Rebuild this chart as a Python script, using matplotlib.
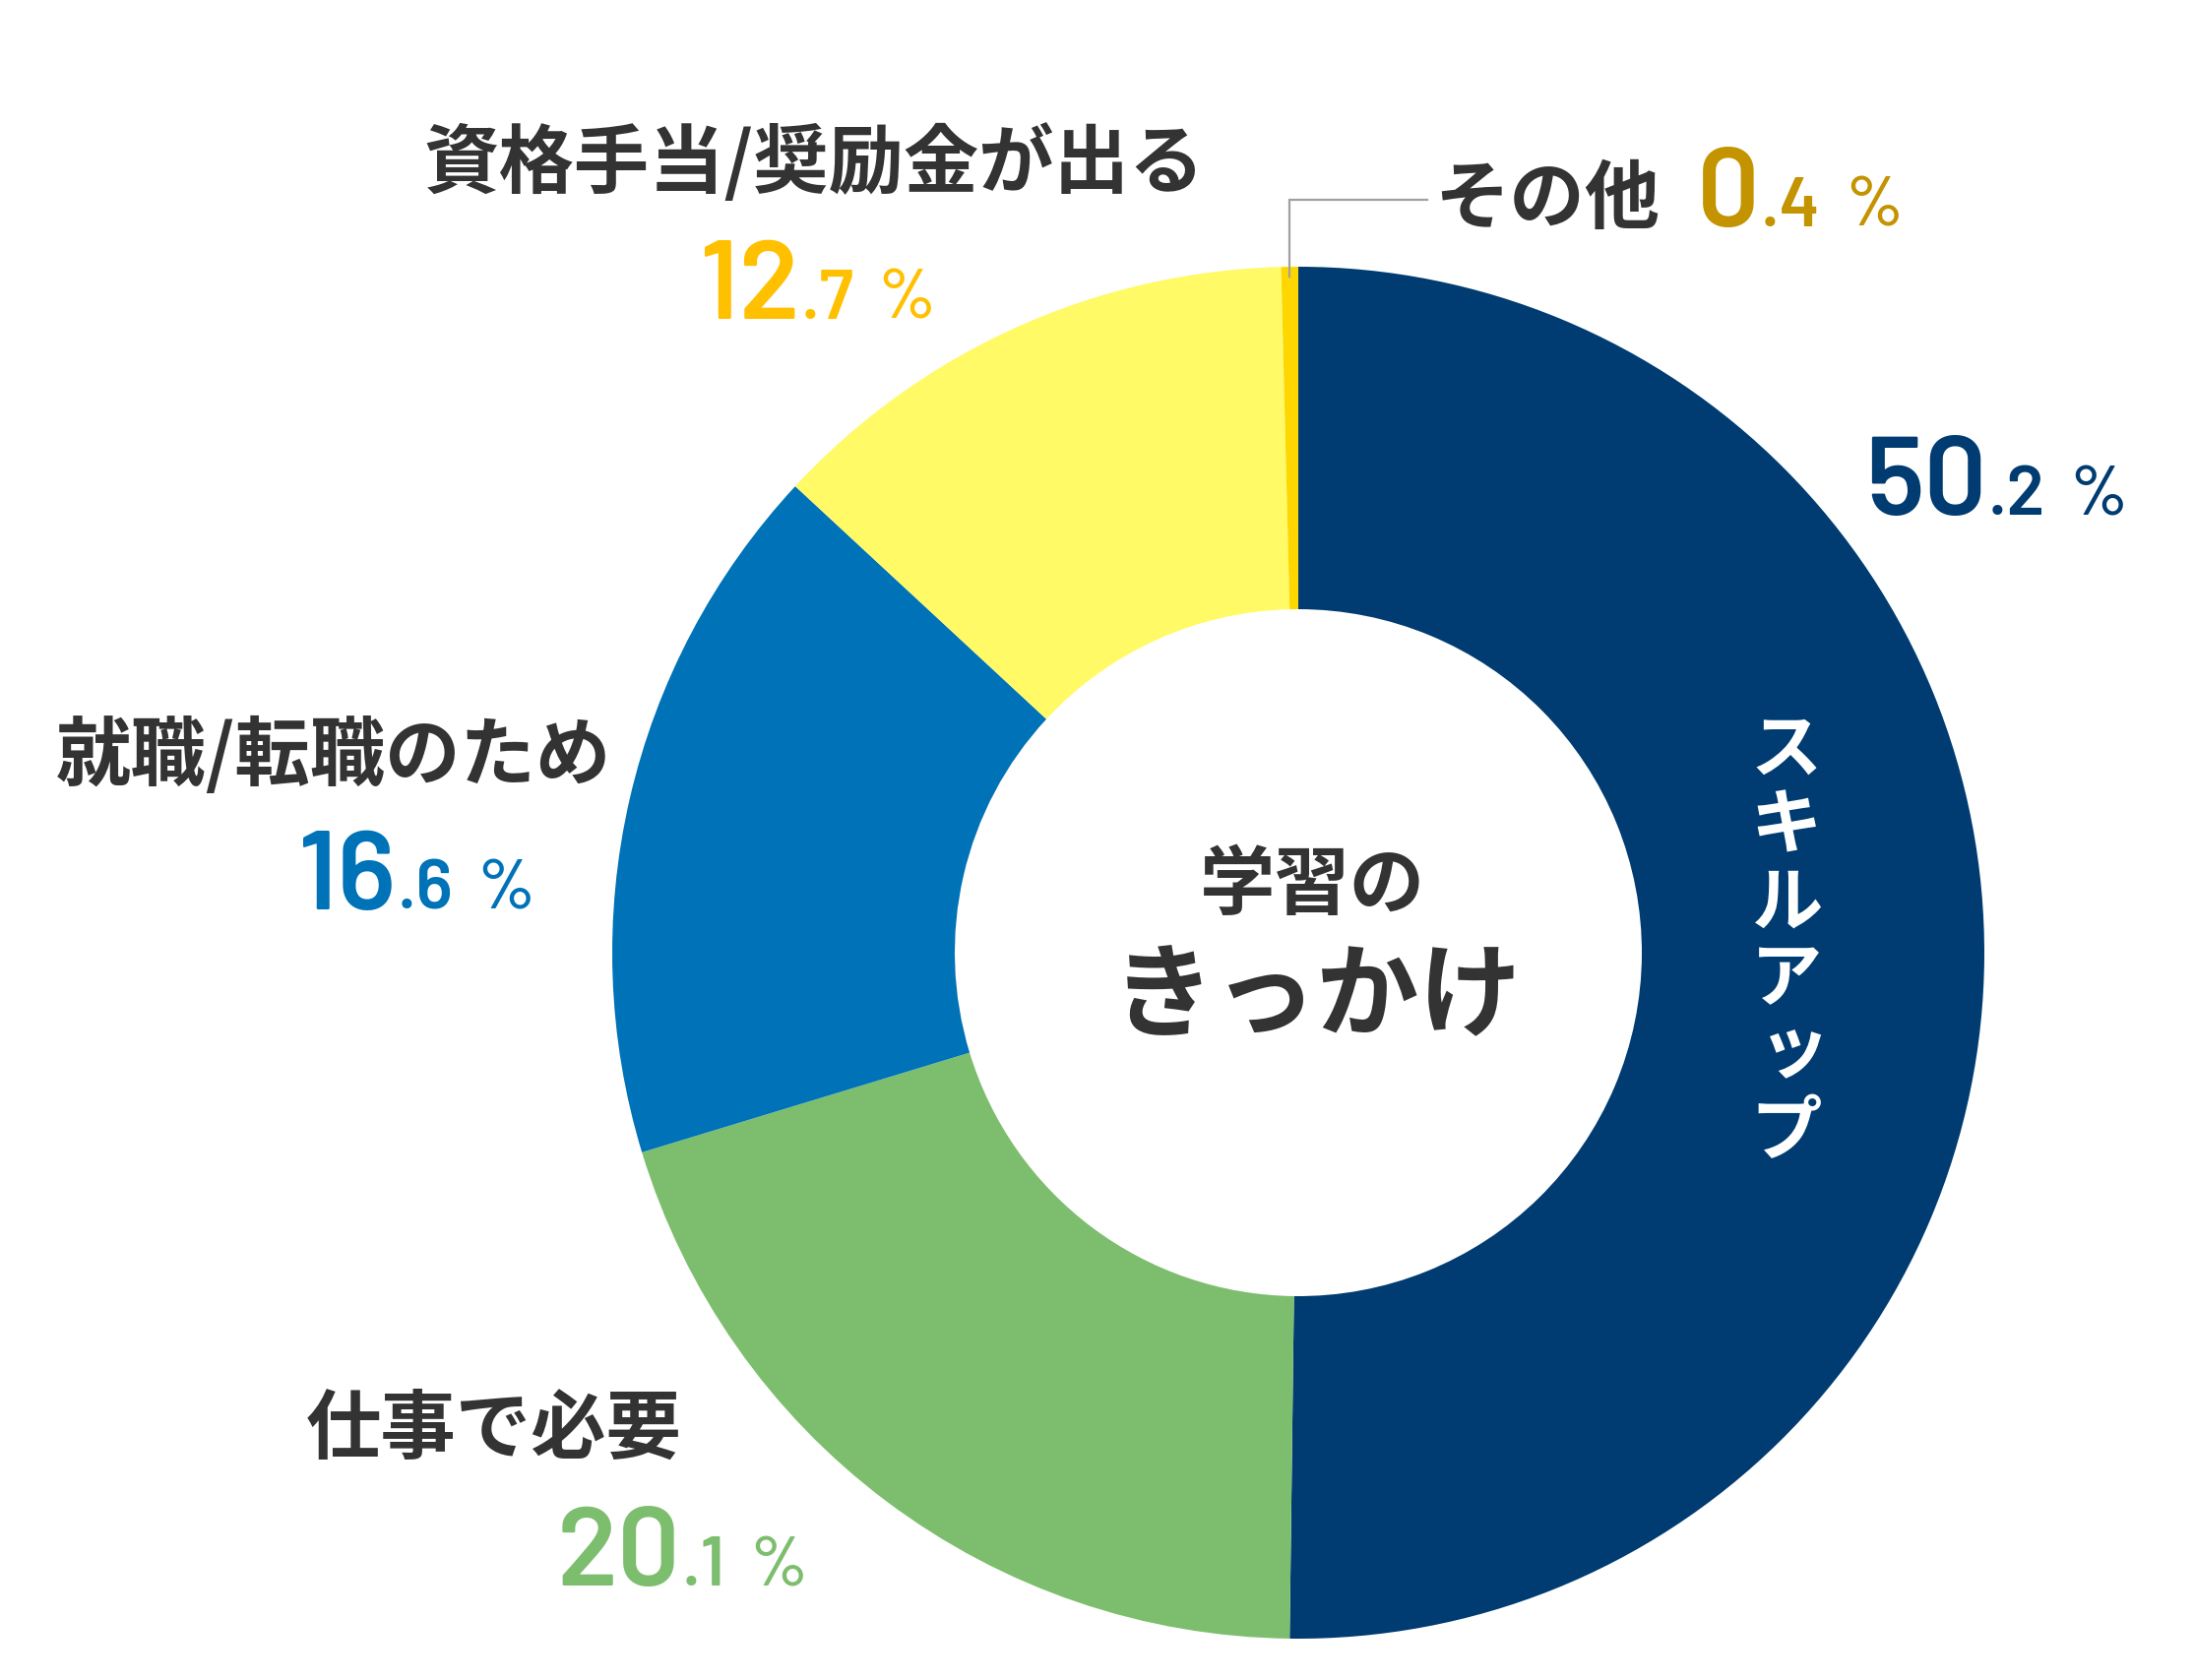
import numpy as np
import matplotlib
matplotlib.use("Agg")
import matplotlib.pyplot as plt

# ---- data ----
categories = ["スキルアップ", "仕事で必要", "就職/転職のため", "資格手当/奨励金が出る", "その他"]
values = [50.2, 20.1, 16.6, 12.7, 0.4]
big_parts = ["50", "20", "16", "12", "0"]
small_parts = [".2", ".1", ".6", ".7", ".4"]
wedge_colors = ["#003C71", "#7DBE6E", "#0072B7", "#FFFA66", "#FFD700"]
pct_colors = ["#003C71", "#7DBE6E", "#0072B7", "#FFC000", "#C49300"]

W, H = 2229, 1707
fig = plt.figure(figsize=(W / 100, H / 100), dpi=100)
ax = fig.add_axes([0, 0, 1, 1])

cx, cy = 1319, H - 968
R_out, R_in = 697, 349

ax.pie(values, colors=wedge_colors, startangle=90, counterclock=False,
       radius=R_out, center=(cx, cy),
       wedgeprops=dict(width=R_out - R_in, edgecolor="none", linewidth=0))
ax.set_xlim(0, W)
ax.set_ylim(0, H)
ax.set_aspect("auto")
ax.axis("off")

def Y(y):
    return H - y

JP = ["Noto Sans CJK JP", "DejaVu Sans"]
NUM = ["Barlow", "Barlow Semi Condensed", "Roboto Condensed", "DejaVu Sans"]
DARK = "#333333"

# category labels
ax.text(827, Y(166), categories[3], family=JP, weight="bold", fontsize=55,
        color=DARK, ha="center", va="center")
ax.text(1572, Y(203), categories[4], family=JP, weight="bold", fontsize=55,
        color=DARK, ha="center", va="center")
ax.text(339, Y(768), categories[2], family=JP, weight="bold", fontsize=55,
        color=DARK, ha="center", va="center")
ax.text(502, Y(1453), categories[1], family=JP, weight="bold", fontsize=55,
        color=DARK, ha="center", va="center")

# vertical label inside the big slice
vert = categories[0]
y0 = 762
step = 78
for i, ch in enumerate(vert):
    dx, dy = 0, 0
    if ch == "ッ":
        dx, dy = 8, -6
    ax.text(1815 + dx, Y(y0 + i * step + dy), ch, family=JP, weight="bold",
            fontsize=52, color="white", ha="center", va="center")

# center title
ax.text(1333, Y(900), "学習の", family=JP, weight="bold", fontsize=55,
        color=DARK, ha="center", va="center")
ax.text(1338, Y(1014), "きっかけ", family=JP, weight="bold", fontsize=75,
        color=DARK, ha="center", va="center")

# percentages
fig.canvas.draw()
renderer = fig.canvas.get_renderer()

def put_pct(x, yb, big, small, color):
    t1 = ax.text(x, Y(yb), big, family=NUM, weight=600, fontsize=81,
                 color=color, ha="left", va="baseline")
    bb = t1.get_window_extent(renderer)
    t2 = ax.text(bb.x1 + 1, Y(yb), small, family=NUM, weight=600, fontsize=51,
                 color=color, ha="left", va="baseline")
    bb2 = t2.get_window_extent(renderer)
    ax.text(bb2.x1 + 24, Y(yb), "%", family=NUM, weight=500, fontsize=51,
            color=color, ha="left", va="baseline")

pct_pos = [(1895, 523), (566, 1611), (303, 924), (711, 324), (1724, 230)]
for (x, yb), b, s, c in zip(pct_pos, big_parts, small_parts, pct_colors):
    put_pct(x, yb, b, s, c)

# leader line for the small slice
cum = np.cumsum([0] + values)
mid = 90 - 360 * (cum[4] + values[4] / 2) / sum(values)
lx = cx + R_out * np.cos(np.radians(mid))
ly = cy + (R_out - 10) * np.sin(np.radians(mid))
ax.plot([lx, lx, 1450], [ly, Y(203), Y(203)], color="#A0A0A0", lw=1.6,
        solid_joinstyle="miter")

fig.savefig("out.png", dpi=100, facecolor="white")
